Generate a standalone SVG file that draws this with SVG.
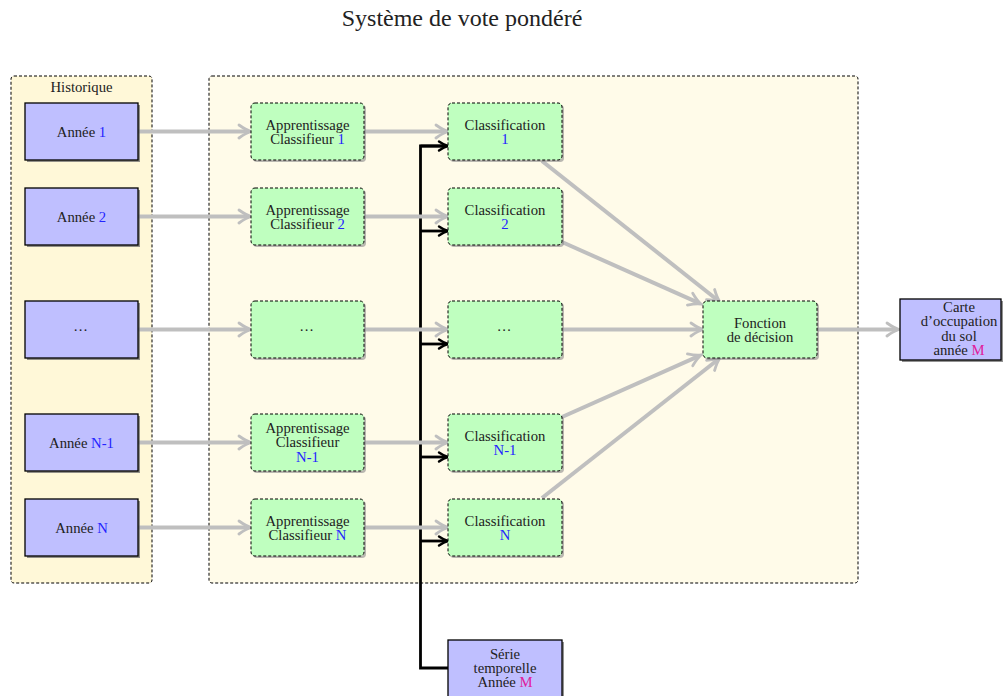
<svg xmlns="http://www.w3.org/2000/svg" width="1005" height="696" viewBox="0 0 1005 696">
<style>
text { font-family: "Liberation Serif", "Times New Roman", serif; font-size: 14.7px; fill: #222; text-anchor: middle; }
.title { font-size: 24px; }
.b { fill: #2424ff; }
.m { fill: #e0209c; }
.cont { stroke: #000; stroke-width: 1; stroke-dasharray: 3 2; }
.blue { fill: #bfbfff; stroke: #000; stroke-width: 1.3; }
.green { fill: #bfffbf; stroke: #000; stroke-width: 1; stroke-dasharray: 3 2; }
.shB { fill: #6e6e6e; opacity: 0.75; }
.shG { fill: #8a8a8a; opacity: 0.6; }
.gray { stroke: #bfbfbf; stroke-width: 4; fill: none; marker-end: url(#ag); }
.blk { stroke: #000; stroke-width: 2.8; fill: none; }
.blka { stroke: #000; stroke-width: 2.8; fill: none; marker-end: url(#ab); }
</style>
<defs>
<marker id="ag" markerUnits="userSpaceOnUse" markerWidth="18" markerHeight="18" refX="13" refY="9" orient="auto">
<path d="M3,2.5 Q10,7.5 15,9 Q10,10.5 3,15.5" fill="none" stroke="#bfbfbf" stroke-width="2.8" stroke-linecap="round"/>
</marker>
<marker id="ab" markerUnits="userSpaceOnUse" markerWidth="14" markerHeight="14" refX="10" refY="7" orient="auto">
<path d="M3,2.5 Q8,6 12,7 Q8,8 3,11.5" fill="none" stroke="#000" stroke-width="2.4" stroke-linecap="round"/>
</marker>
</defs>
<rect width="1005" height="696" fill="#fff"/>
<text class="title" x="462" y="26">Système de vote pondéré</text>

<g id="historique">
<rect class="cont" x="11" y="76" width="141" height="507" rx="3" fill="#fff8d8"/>
<text x="81.5" y="92">Historique</text>
</g>
<g id="traitement">
<rect class="cont" x="209" y="76" width="649" height="507" rx="3" fill="#fffbe9"/>
</g>

<g id="connectors">
<path class="blk" d="M446,146 H420.5 V668 H448"/>
<line class="blka" x1="420.5" y1="146" x2="446" y2="146"/>
<line class="blka" x1="420.5" y1="231" x2="446" y2="231"/>
<line class="blka" x1="420.5" y1="344" x2="446" y2="344"/>
<line class="blka" x1="420.5" y1="457" x2="446" y2="457"/>
<line class="blka" x1="420.5" y1="541" x2="446" y2="541"/>

<line class="gray" x1="138" y1="131.5" x2="249" y2="131.5"/>
<line class="gray" x1="138" y1="216.5" x2="249" y2="216.5"/>
<line class="gray" x1="138" y1="329.5" x2="249" y2="329.5"/>
<line class="gray" x1="138" y1="442.5" x2="249" y2="442.5"/>
<line class="gray" x1="138" y1="527.5" x2="249" y2="527.5"/>

<line class="gray" x1="364" y1="131.5" x2="446" y2="131.5"/>
<line class="gray" x1="364" y1="216.5" x2="446" y2="216.5"/>
<line class="gray" x1="364" y1="329.5" x2="446" y2="329.5"/>
<line class="gray" x1="364" y1="442.5" x2="446" y2="442.5"/>
<line class="gray" x1="364" y1="527.5" x2="446" y2="527.5"/>

<line class="gray" x1="542" y1="161" x2="718.4" y2="300.8"/>
<line class="gray" x1="562" y1="242" x2="699.2" y2="303.2"/>
<line class="gray" x1="562" y1="329.5" x2="701" y2="329.5"/>
<line class="gray" x1="562" y1="417" x2="699.2" y2="355.8"/>
<line class="gray" x1="542" y1="498" x2="718.4" y2="359.2"/>

<line class="gray" x1="817" y1="329.5" x2="897" y2="329.5"/>
</g>

<!-- Année boxes -->
<g id="annee1"><rect class="shB" x="27" y="105" width="113" height="57"/><rect class="blue" x="25" y="103" width="113" height="57"/><text x="81.5" y="136.5">Année <tspan class="b">1</tspan></text></g>
<g id="annee2"><rect class="shB" x="27" y="190" width="113" height="57"/><rect class="blue" x="25" y="188" width="113" height="57"/><text x="81.5" y="221.5">Année <tspan class="b">2</tspan></text></g>
<g id="anneeDots"><rect class="shB" x="27" y="303" width="113" height="57"/><rect class="blue" x="25" y="301" width="113" height="57"/><text x="81.5" y="331" letter-spacing="2">…</text></g>
<g id="anneeN1"><rect class="shB" x="27" y="416" width="113" height="57"/><rect class="blue" x="25" y="414" width="113" height="57"/><text x="81.5" y="447.5">Année <tspan class="b">N-1</tspan></text></g>
<g id="anneeN"><rect class="shB" x="27" y="501" width="113" height="57"/><rect class="blue" x="25" y="499" width="113" height="57"/><text x="81.5" y="532.5">Année <tspan class="b">N</tspan></text></g>

<!-- Apprentissage boxes -->
<g id="app1"><rect class="shG" x="253" y="105" width="113" height="57" rx="4"/><rect class="green" x="251" y="103" width="113" height="57" rx="4"/><text x="307.5" y="130">Apprentissage</text><text x="307.5" y="144">Classifieur <tspan class="b">1</tspan></text></g>
<g id="app2"><rect class="shG" x="253" y="190" width="113" height="57" rx="4"/><rect class="green" x="251" y="188" width="113" height="57" rx="4"/><text x="307.5" y="215">Apprentissage</text><text x="307.5" y="229">Classifieur <tspan class="b">2</tspan></text></g>
<g id="appDots"><rect class="shG" x="253" y="303" width="113" height="57" rx="4"/><rect class="green" x="251" y="301" width="113" height="57" rx="4"/><text x="307.5" y="331" letter-spacing="2">…</text></g>
<g id="appN1"><rect class="shG" x="253" y="416" width="113" height="57" rx="4"/><rect class="green" x="251" y="414" width="113" height="57" rx="4"/><text x="307.5" y="433">Apprentissage</text><text x="307.5" y="447">Classifieur</text><text x="307.5" y="461.5" class="b">N-1</text></g>
<g id="appN"><rect class="shG" x="253" y="501" width="113" height="57" rx="4"/><rect class="green" x="251" y="499" width="113" height="57" rx="4"/><text x="307.5" y="526">Apprentissage</text><text x="307.5" y="540">Classifieur <tspan class="b">N</tspan></text></g>

<!-- Classification boxes -->
<g id="cls1"><rect class="shG" x="450" y="105" width="114" height="57" rx="4"/><rect class="green" x="448" y="103" width="114" height="57" rx="4"/><text x="505" y="130">Classification</text><text x="505" y="144" class="b">1</text></g>
<g id="cls2"><rect class="shG" x="450" y="190" width="114" height="57" rx="4"/><rect class="green" x="448" y="188" width="114" height="57" rx="4"/><text x="505" y="215">Classification</text><text x="505" y="229" class="b">2</text></g>
<g id="clsDots"><rect class="shG" x="450" y="303" width="114" height="57" rx="4"/><rect class="green" x="448" y="301" width="114" height="57" rx="4"/><text x="505" y="331" letter-spacing="2">…</text></g>
<g id="clsN1"><rect class="shG" x="450" y="416" width="114" height="57" rx="4"/><rect class="green" x="448" y="414" width="114" height="57" rx="4"/><text x="505" y="441">Classification</text><text x="505" y="455" class="b">N-1</text></g>
<g id="clsN"><rect class="shG" x="450" y="501" width="114" height="57" rx="4"/><rect class="green" x="448" y="499" width="114" height="57" rx="4"/><text x="505" y="526">Classification</text><text x="505" y="540" class="b">N</text></g>

<g id="fonction"><rect class="shG" x="705" y="303" width="114" height="57" rx="4"/><rect class="green" x="703" y="301" width="114" height="57" rx="4"/><text x="760" y="328">Fonction</text><text x="760" y="342">de décision</text></g>

<g id="carte"><rect class="shB" x="902" y="301" width="101" height="61"/><rect class="blue" x="900" y="299" width="101" height="61"/><text x="959" y="311.5">Carte</text><text x="959" y="326">d’occupation</text><text x="959" y="340.5">du sol</text><text x="959" y="355">année <tspan class="m">M</tspan></text></g>

<g id="serie"><rect class="shB" x="450" y="642" width="114" height="60"/><rect class="blue" x="448" y="640" width="114" height="60"/><text x="505" y="659">Série</text><text x="505" y="673">temporelle</text><text x="505" y="687">Année <tspan class="m">M</tspan></text></g>
</svg>
